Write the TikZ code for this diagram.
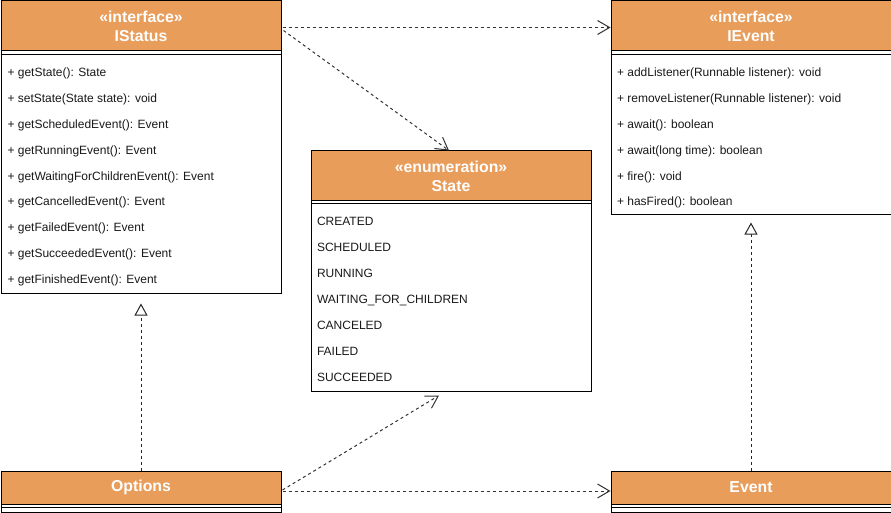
\documentclass[tikz,border=0pt]{standalone}
\usepackage{fontspec}
\setmainfont{Liberation Sans}
\usetikzlibrary{arrows.meta}
\definecolor{orng}{HTML}{E89D5B}
\begin{document}
\begin{tikzpicture}[x=1pt,y=-1pt,line width=1pt,
  classbox/.style={draw=black,fill=white,inner sep=0pt,anchor=north west},
  hdr/.style={draw=black,fill=orng,text=white,inner sep=0pt,anchor=north west,
    align=center,font=\bfseries\fontsize{15.8}{19}\selectfont},
  item/.style={anchor=base west,inner sep=0pt,text=black!90,font=\fontsize{12}{14}\selectfont},
  dep/.style={draw=black!80,dash pattern=on 3pt off 3pt,
    -{Straight Barb[length=12pt,width=14pt,line width=1pt]}},
  real/.style={draw=black!85,dash pattern=on 3pt off 3pt,
    -{Triangle[length=12pt,width=13pt,fill=white,line width=1pt]}}]
\useasboundingbox (0,0) rectangle (891,513);

% IStatus
\node[classbox,minimum width=280pt,minimum height=292pt] (istatus) at (0.5,0.5) {};
\node[hdr,minimum width=280pt,minimum height=50pt] (istatusH) at (0.5,0.5) {«interface»\\IStatus};
\draw (0.5,54.5) -- (280.5,54.5);
\foreach \t [count=\i from 0] in {+ getState(): State, + setState(State state): void,
  + getScheduledEvent(): Event, + getRunningEvent(): Event,
  + getWaitingForChildrenEvent(): Event, + getCancelledEvent(): Event,
  + getFailedEvent(): Event, + getSucceededEvent(): Event, + getFinishedEvent(): Event}
  \node[item] (is\i) at (7,76.5+25.9*\i) {\t};

% IEvent
\node[classbox,minimum width=280pt,minimum height=213pt] (ievent) at (610.5,0.5) {};
\node[hdr,minimum width=280pt,minimum height=50pt] (ieventH) at (610.5,0.5) {«interface»\\IEvent};
\draw (610.5,54.5) -- (890.5,54.5);
\foreach \t [count=\i from 0] in {+ addListener(Runnable listener): void,
  + removeListener(Runnable listener): void, + await(): boolean,
  + await(long time): boolean, + fire(): void, + hasFired(): boolean}
  \node[item] (ie\i) at (616.5,76.5+25.9*\i) {\t};

% State
\node[classbox,minimum width=280pt,minimum height=240pt] (state) at (310.5,150.5) {};
\node[hdr,minimum width=280pt,minimum height=50pt] (stateH) at (310.5,150.5) {«enumeration»\\State};
\draw (310.5,203.5) -- (590.5,203.5);
\foreach \t [count=\i from 0] in {CREATED, SCHEDULED, RUNNING, WAITING\_FOR\_CHILDREN,
  CANCELED, FAILED, SUCCEEDED}
  \node[item] (st\i) at (316.5,225.5+26*\i) {\t};

% Options
\node[classbox,minimum width=280pt,minimum height=41pt] (options) at (0.5,470.5) {};
\node[hdr,minimum width=280pt,minimum height=33pt] (optionsH) at (0.5,470.5) {Options};
\draw (0.5,507.5) -- (280.5,507.5);

% Event
\node[classbox,minimum width=280pt,minimum height=41pt] (event) at (610.5,470.5) {};
\node[hdr,minimum width=280pt,minimum height=33pt] (eventH) at (610.5,470.5) {Event};
\draw (610.5,507.5) -- (890.5,507.5);

% targets for realization arrows
\coordinate (istatusT) at ([yshift=-10pt]istatus.south);
\coordinate (ieventT) at ([yshift=-8pt]ievent.south);

% connectors
\draw[dep] ([xshift=1pt,yshift=-1.5pt]istatusH.east) -- ([yshift=-1.5pt]ieventH.west);
\draw[dep] ([xshift=2pt,yshift=-4.5pt]istatusH.east) -- ([xshift=-2pt]state.north);
\draw[real] (options.north) -- (istatusT);
\draw[real] (event.north) -- (ieventT);
\draw[dep] ([xshift=1pt,yshift=-2.5pt]optionsH.east) -- ([xshift=-12pt,yshift=-4pt]state.south);
\draw[dep] ([xshift=1pt,yshift=-3.5pt]optionsH.east) -- ([yshift=-3.5pt]eventH.west);
\end{tikzpicture}
\end{document}
